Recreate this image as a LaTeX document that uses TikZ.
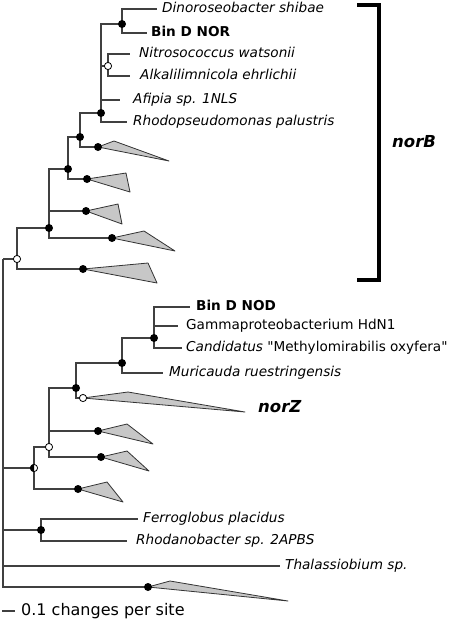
\documentclass[tikz,border=0pt]{standalone}
\usepackage{fontspec}
\setmainfont{DejaVu Sans}
\newfontfamily\quotefont{DejaVu Sans}
\usepackage{tikz}

\begin{document}
\begin{tikzpicture}[x=1pt, y=-1pt,
	every node/.style={font=\fontsize{13.6}{16}\selectfont, inner sep=0pt},
	leaf/.style={anchor=base west, yshift=-3.7pt},
	branch/.style={draw=black!75, line width=1.1pt},
	clade/.style={draw=black!80, fill=black!22, line width=0.8pt, line join=round},
	big/.style={font=\fontsize{16.5}{20}\selectfont\bfseries\itshape}]
	\useasboundingbox (0,0) rectangle (454,630);
	\foreach \n/\x/\y in {r/3/259, a/17/259, b/49/228, c/68/169, d/80/137, e/101/113, f/122/24, g/108/66,
		dino/157/9, nor/147/33, nitro/130/54, alkali/130/76, afipia/120/100, rhodo/127/122,
		k1/98/147, k2/87/179, k3/86/211, k4/112/238, k5/83/269,
		h/34/468, i/49/447, j/76/388, k/122/363, l/154/338, z/83/398,
		nod/190/307, gamma/178/326, cand/182/348, muri/163/373,
		k6/98/431, k7/101/457, k8/78/489, m/41/530, ferro/138/519, rhodano/127/541, thal/280/566, k9/148/587}
		\coordinate (\n) at (\x,\y);
	\foreach \p/\c in {r/a, r/h, r/m, r/thal, r/k9, a/b, a/k5, b/c, b/k3, b/k4, c/d, c/k2, d/e, d/k1,
		e/f, e/g, e/afipia, e/rhodo, f/dino, f/nor, g/nitro, g/alkali, h/i, h/k8, i/j, i/k6, i/k7,
		j/k, j/z, k/l, k/muri, l/nod, l/gamma, l/cand, m/ferro, m/rhodano}
		\draw[branch] (\p) |- (\c);
	\foreach \n/\ax/\ay/\bx/\by in {k1/16/-6/71/14, k2/39/-6/43/13, k3/32/-7/36/13, k4/32/-7/63/13,
		k5/65/-6/74/14, z/45/-6/162/14, k6/29/-7/55/13, k7/26/-6/48/14, k8/29/-7/45/13, k9/22/-6/140/14}
		\filldraw[clade] (\n) -- +(\ax,\ay) -- +(\bx,\by) -- cycle;
	\foreach \n in {b,c,d,e,f,k1,k2,k3,k4,k5,j,k,l,k6,k7,k8,m,k9} \fill (\n) circle (4pt);
	\foreach \n in {a,g,i,z} \filldraw[fill=white, line width=0.8pt] (\n) circle (3.6pt);
	\filldraw[fill=white, line width=0.8pt] (h) circle (3.6pt);
	\fill (h) +(0pt,4pt) arc[start angle=90, end angle=270, radius=4pt] -- cycle;
	\foreach \n/\dx/\t in {dino/5/\textit{Dinoroseobacter shibae}, nor/4/\textbf{Bin D NOR},
		nitro/9/\textit{Nitrosococcus watsonii}, alkali/10/\textit{Alkalilimnicola ehrlichii},
		afipia/13/\textit{Afipia sp. 1NLS}, rhodo/6/\textit{Rhodopseudomonas palustris},
		nod/6/\textbf{Bin D NOD}, gamma/8/Gammaproteobacterium HdN1,
		cand/4/{\textit{Candidatus} {\quotefont"}Methylomirabilis oxyfera{\quotefont"}}, muri/6/\textit{Muricauda ruestringensis},
		ferro/5/\textit{Ferroglobus placidus}, rhodano/9/\textit{Rhodanobacter sp. 2APBS},
		thal/5/\textit{Thalassiobium sp.}}
		\node[leaf, xshift=\dx pt] (t\n) at (\n) {\t};
	\coordinate (bt) at (357,5);
	\coordinate (bb) at (357,280);
	\draw[line width=3.3pt] (bt) -- ++(22,0) |- (bb);
	\node[big, anchor=west] (norb) at (392,142) {norB};
	\node[big, anchor=west] (norz) at (258,407) {norZ};
	\coordinate (s0) at (2,611);
	\draw[branch] (s0) -- ++(13,0) coordinate (s1);
	\node[anchor=base west, font=\fontsize{16}{19}\selectfont] (scale) at (21,615) {0.1 changes per site};
\end{tikzpicture}
\end{document}
